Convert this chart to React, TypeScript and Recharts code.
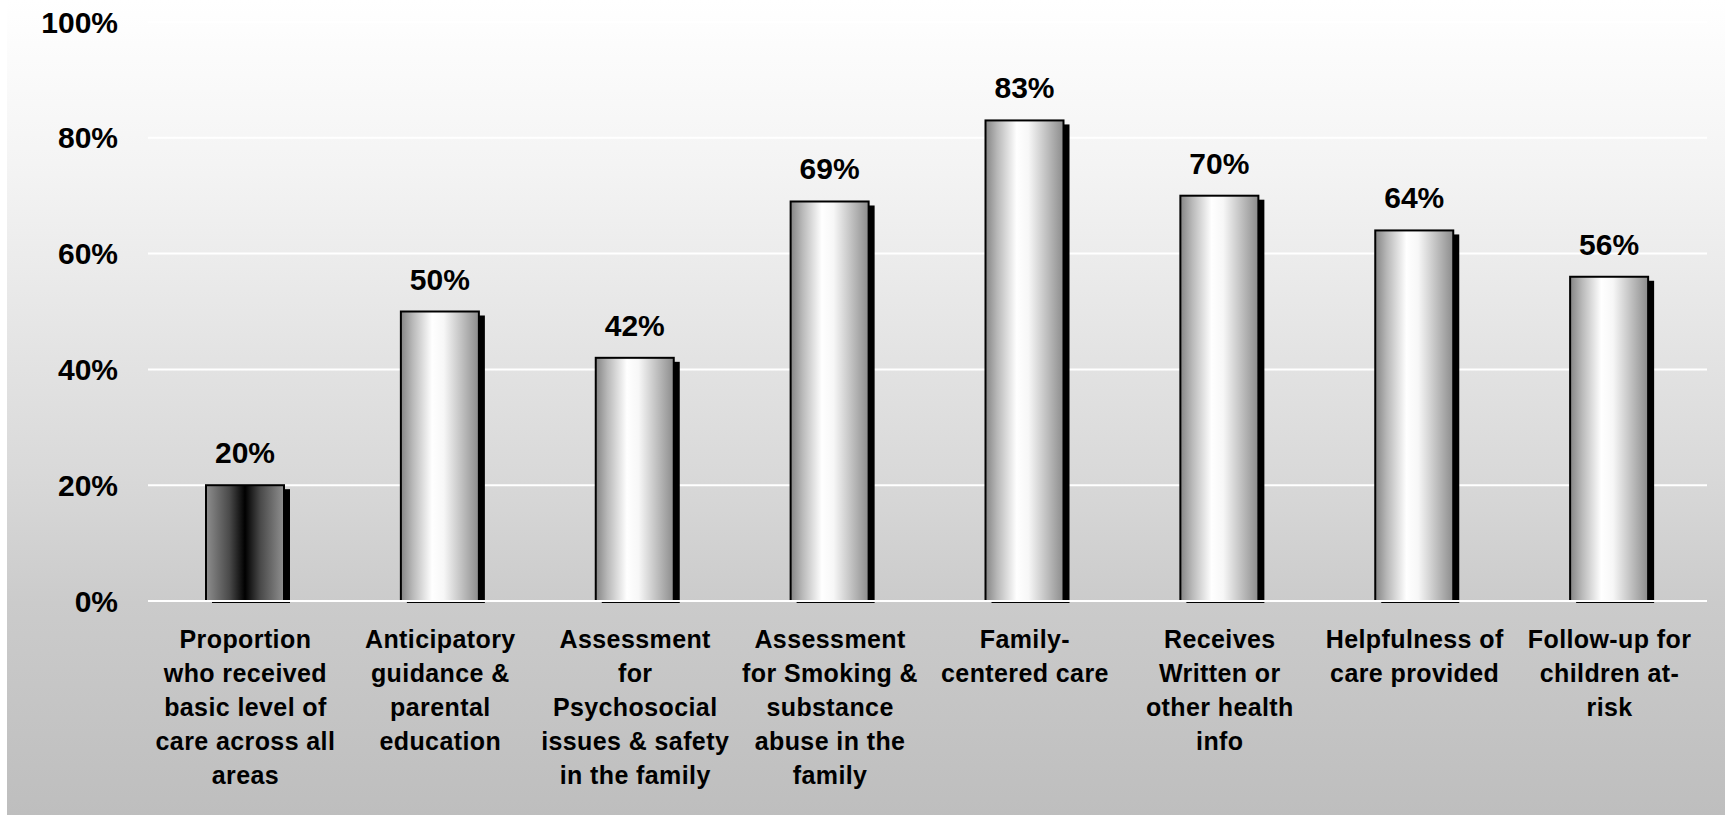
import { BarChart, Bar, XAxis, YAxis, CartesianGrid, LabelList, Cell } from "recharts";

// categories as they wrap under the axis
const categories = [
  "Proportion\nwho received\nbasic level of\ncare across all\nareas",
  "Anticipatory\nguidance &\nparental\neducation",
  "Assessment\nfor\nPsychosocial\nissues & safety\nin the family",
  "Assessment\nfor Smoking &\nsubstance\nabuse in the\nfamily",
  "Family-\ncentered care",
  "Receives\nWritten or\nother health\ninfo",
  "Helpfulness of\ncare provided",
  "Follow-up for\nchildren at-\nrisk",
];
const values = [20, 50, 42, 69, 83, 70, 64, 56];
const yTicks = [0, 20, 40, 60, 80, 100];

const data = categories.map((name, i) => ({ name, value: values[i] }));

const FONT = "'Liberation Sans', Arial, Helvetica, sans-serif";

function CategoryTick({ x, y, payload }: any) {
  const lines = String(payload.value).split("\n");
  return (
    <text
      x={x}
      y={y}
      textAnchor="middle"
      fontFamily={FONT}
      fontWeight="bold"
      fontSize={25}
      letterSpacing={0.4}
      fill="#000"
    >
      {lines.map((l, i) => (
        <tspan key={i} x={x} dy={i === 0 ? 47 : 34}>
          {l}
        </tspan>
      ))}
    </text>
  );
}

function GlossyBar(props: any) {
  const { x, y, width, height, fill } = props;
  if (!height || height <= 0) return null;
  return (
    <g>
      <rect x={x + 6} y={y + 4} width={width} height={height - 2} fill="#000" />
      <rect x={x} y={y} width={width} height={height} fill={fill} stroke="#000" strokeWidth={2} />
    </g>
  );
}

export default function App() {
  return (
    <div style={{ position: "fixed", left: 0, top: 0, width: 1725, height: 815, background: "#fff" }}>
      <div
        style={{
          position: "absolute",
          left: 7,
          top: 0,
          width: 1718,
          height: 815,
          background: "linear-gradient(to bottom, #ffffff 0%, #f4f4f4 20%, #d9d9d9 58%, #cbcbcb 74%, #bebebe 100%)",
        }}
      />
      <div style={{ position: "absolute", left: 0, top: 0 }}>
        <BarChart width={1725} height={815} data={data} margin={{ top: 22, right: 18, left: 0, bottom: 0 }}>
          <defs>
            <linearGradient id="silver" x1="0" y1="0" x2="1" y2="0">
              <stop offset="0%" stopColor="#858585" />
              <stop offset="15%" stopColor="#b8b8b8" />
              <stop offset="40%" stopColor="#ffffff" />
              <stop offset="55%" stopColor="#f7f7f7" />
              <stop offset="85%" stopColor="#b0b0b0" />
              <stop offset="100%" stopColor="#8c8c8c" />
            </linearGradient>
            <linearGradient id="dark" x1="0" y1="0" x2="1" y2="0">
              <stop offset="0%" stopColor="#8e8e8e" />
              <stop offset="30%" stopColor="#4a4a4a" />
              <stop offset="50%" stopColor="#000000" />
              <stop offset="70%" stopColor="#4a4a4a" />
              <stop offset="100%" stopColor="#909090" />
            </linearGradient>
          </defs>
          <CartesianGrid vertical={false} stroke="#ffffff" strokeWidth={2} />
          <XAxis
            dataKey="name"
            interval={0}
            tick={<CategoryTick />}
            tickLine={false}
            tickSize={0}
            tickMargin={0}
            axisLine={{ stroke: "#ffffff", strokeWidth: 2 }}
            height={214}
          />
          <YAxis
            domain={[0, 100]}
            ticks={yTicks}
            tickFormatter={(v: number) => v + "%"}
            axisLine={false}
            tickLine={false}
            tickSize={0}
            tickMargin={30}
            width={148}
            tick={{ fill: "#000", fontSize: 30, fontWeight: "bold", fontFamily: FONT }}
          />
          <Bar dataKey="value" barSize={78} shape={<GlossyBar />} isAnimationActive={false}>
            {data.map((d, i) => (
              <Cell key={d.name} fill={i === 0 ? "url(#dark)" : "url(#silver)"} />
            ))}
            <LabelList
              dataKey="value"
              position="top"
              offset={22}
              formatter={(v: any) => v + "%"}
              style={{ fill: "#000", fontSize: 30, fontWeight: "bold", fontFamily: FONT }}
            />
          </Bar>
        </BarChart>
      </div>
    </div>
  );
}
